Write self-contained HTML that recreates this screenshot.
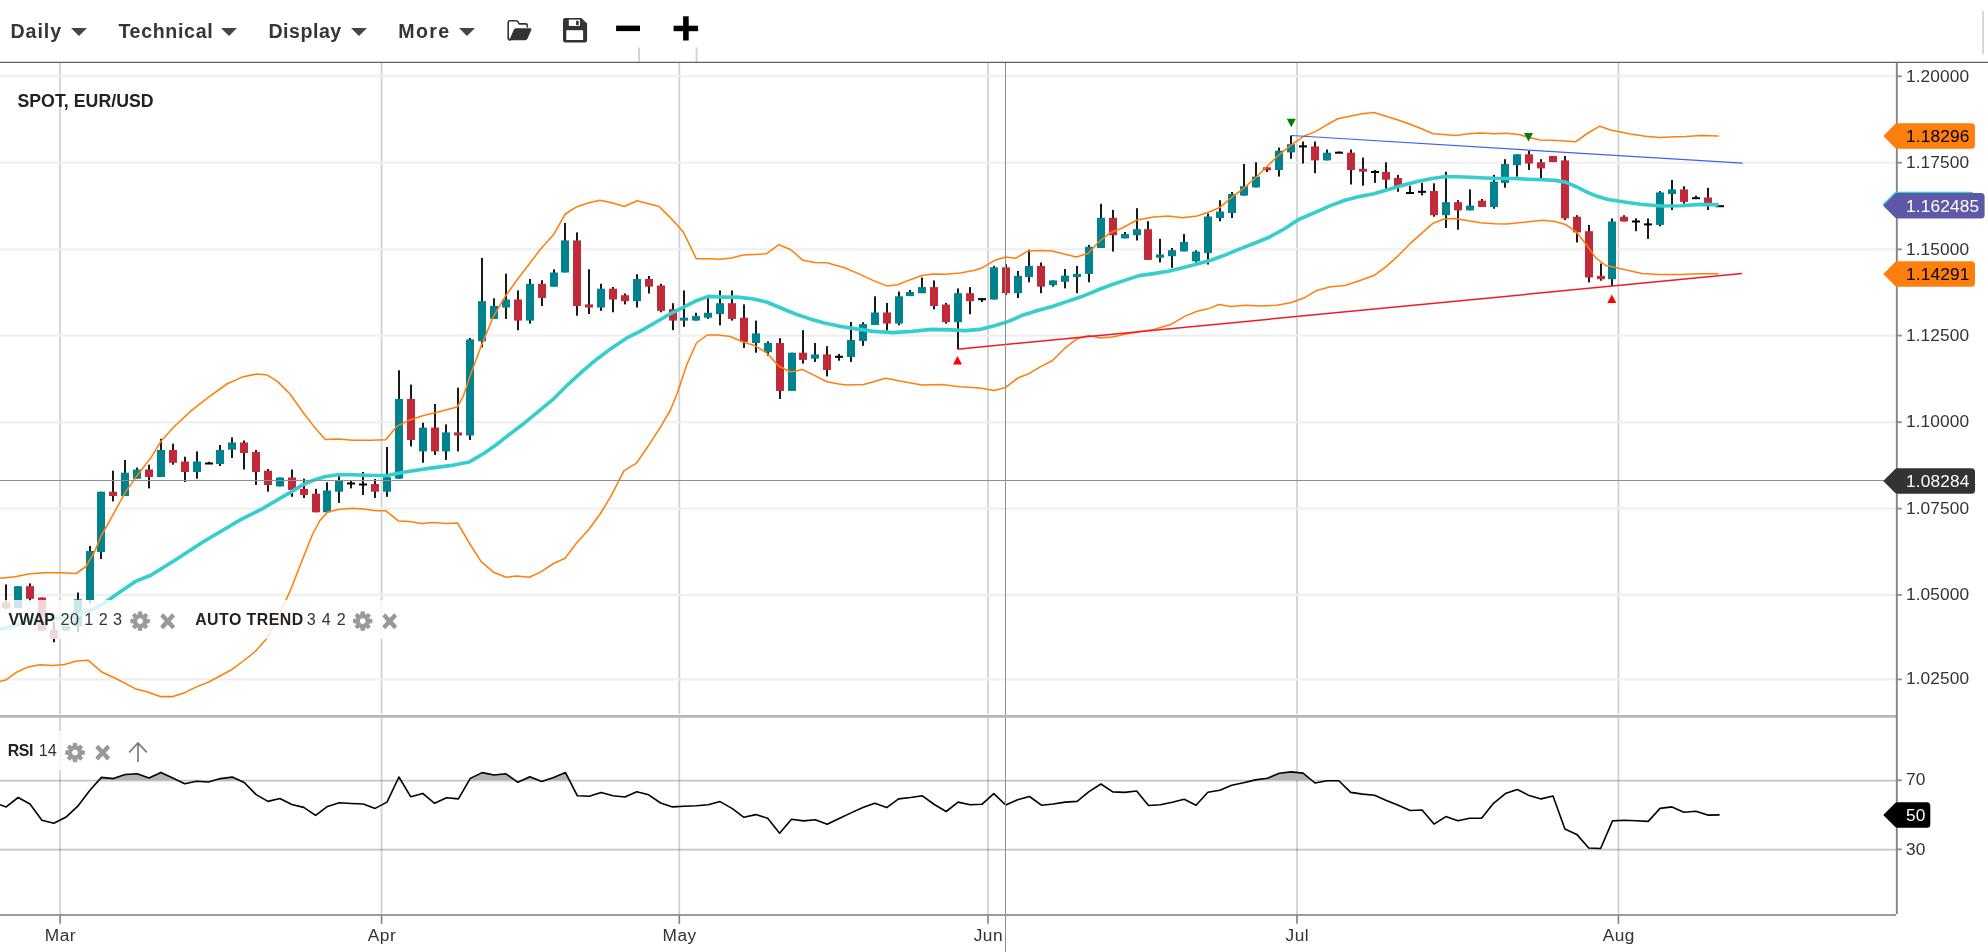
<!DOCTYPE html>
<html lang="en"><head><meta charset="utf-8"><title>SPOT, EUR/USD chart</title>
<style>
html,body{margin:0;padding:0;background:#fff;}
body{width:1988px;height:952px;position:relative;overflow:hidden;font-family:"Liberation Sans","DejaVu Sans",sans-serif;}
.chart{position:absolute;left:0;top:0;display:block;will-change:transform;}
.toolbar{position:absolute;left:0;top:0;width:1988px;height:62px;z-index:2;will-change:transform;}
.menu{position:absolute;top:18.6px;height:24px;line-height:24px;font-size:19.6px;font-weight:bold;color:#353535;letter-spacing:0.32px;white-space:nowrap;}
.caret{position:absolute;top:27.8px;width:0;height:0;border-left:8px solid transparent;border-right:8px solid transparent;border-top:8.8px solid #454545;}
.ico{position:absolute;top:0;left:0;}
</style></head><body>
<div class="toolbar">
<span class="menu" style="left:10.5px;letter-spacing:0.95px">Daily</span><i class="caret" style="left:71px"></i>
<span class="menu" style="left:118.4px;letter-spacing:0.67px">Technical</span><i class="caret" style="left:221.2px"></i>
<span class="menu" style="left:268.4px;letter-spacing:0.52px">Display</span><i class="caret" style="left:351.2px"></i>
<span class="menu" style="left:398.2px;letter-spacing:1.4px">More</span><i class="caret" style="left:459px"></i>
<svg class="ico" width="720" height="62" viewBox="0 0 720 62">
<path d="M508.2,38.3 L508.2,22.2 Q508.2,20.7 509.7,20.7 L516.2,20.7 Q517.4,20.7 518,21.8 L519.2,23.9 L525.8,23.9 Q527.3,23.9 527.3,25.4 L527.3,27.6" fill="none" stroke="#333" stroke-width="1.6" stroke-linejoin="round"/>
<path d="M508.2,37.5 Q508.2,40 510.6,40.1" fill="none" stroke="#333" stroke-width="1.6"/>
<path d="M515.8,28.2 L530.3,28.2 Q532,28.2 531.3,29.9 L527.6,38.6 Q526.9,40.2 525.2,40.2 L510.9,40.2 Q509.3,40.2 510,38.6 L513.8,29.7 Q514.5,28.2 515.8,28.2 Z" fill="#333"/>
<path d="M565.1,18 L581.3,18 L587.1,23.6 L587.1,40.3 Q587.1,42.4 585,42.4 L565.1,42.4 Q563,42.4 563,40.3 L563,20.1 Q563,18 565.1,18 Z" fill="#333"/>
<rect x="568.8" y="19.6" width="11.2" height="6.3" fill="#fff"/>
<rect x="576.1" y="20.8" width="2.6" height="4.3" fill="#333"/>
<rect x="566.3" y="30.2" width="16.8" height="9.8" fill="#fff"/>
<rect x="616.1" y="25.6" width="23.9" height="5.5" fill="#000"/>
<rect x="673.6" y="25.7" width="24.5" height="5.5" fill="#000"/>
<rect x="683.1" y="16.3" width="5.6" height="24.2" fill="#000"/>
</svg>
</div>
<svg class="chart" width="1988" height="952" viewBox="0 0 1988 952">
<g fill="#d4d4d4"><rect x="638" y="47.5" width="2" height="15"/><rect x="695.6" y="47.5" width="2" height="15"/><rect x="1982.1" y="11" width="1.9" height="43" fill="#d6d6d6"/></g>
<g stroke="#000" stroke-opacity="0.175" stroke-width="1.85">
<line x1="60.1" y1="63" x2="60.1" y2="714"/>
<line x1="381.6" y1="63" x2="381.6" y2="714"/>
<line x1="679.3" y1="63" x2="679.3" y2="714"/>
<line x1="988.0" y1="63" x2="988.0" y2="714"/>
<line x1="1297.0" y1="63" x2="1297.0" y2="714"/>
<line x1="1618.4" y1="63" x2="1618.4" y2="714"/>
</g>
<g stroke="#000" stroke-opacity="0.175" stroke-width="1.85">
<line x1="60.1" y1="717" x2="60.1" y2="915"/>
<line x1="381.6" y1="717" x2="381.6" y2="915"/>
<line x1="679.3" y1="717" x2="679.3" y2="915"/>
<line x1="988.0" y1="717" x2="988.0" y2="915"/>
<line x1="1297.0" y1="717" x2="1297.0" y2="915"/>
<line x1="1618.4" y1="717" x2="1618.4" y2="915"/>
</g>
<g stroke="#efefef" stroke-width="2.1">
<line x1="0" y1="76.3" x2="1896.6" y2="76.3"/>
<line x1="0" y1="162.7" x2="1896.6" y2="162.7"/>
<line x1="0" y1="249.3" x2="1896.6" y2="249.3"/>
<line x1="0" y1="335.6" x2="1896.6" y2="335.6"/>
<line x1="0" y1="422.2" x2="1896.6" y2="422.2"/>
<line x1="0" y1="508.6" x2="1896.6" y2="508.6"/>
<line x1="0" y1="594.9" x2="1896.6" y2="594.9"/>
<line x1="0" y1="679.4" x2="1896.6" y2="679.4"/>
</g>
<g stroke="#000" stroke-opacity="0.23" stroke-width="1.55"><line x1="0" y1="780.6" x2="1896.6" y2="780.6"/><line x1="0" y1="849.6" x2="1896.6" y2="849.6"/></g>
<defs><clipPath id="cm"><rect x="0" y="63" width="1896.6" height="653"/></clipPath><clipPath id="c70"><rect x="0" y="718" width="1896.6" height="62.3"/></clipPath></defs>
<g clip-path="url(#cm)">
<g class="candles">
<rect x="5" y="584.5" width="2" height="24.9" fill="#1a1a1a"/>
<rect x="2" y="602.4" width="8" height="5.8" fill="#c12b39"/>
<rect x="17" y="586.2" width="2" height="22.0" fill="#1a1a1a"/>
<rect x="14" y="586.2" width="8" height="22.0" fill="#00838f"/>
<rect x="29" y="583.4" width="2" height="18.0" fill="#1a1a1a"/>
<rect x="26" y="586.2" width="8" height="12.6" fill="#c12b39"/>
<rect x="41" y="597.5" width="2" height="33.1" fill="#1a1a1a"/>
<rect x="38" y="597.5" width="8" height="33.1" fill="#c12b39"/>
<rect x="53" y="622.0" width="2" height="20.2" fill="#1a1a1a"/>
<rect x="50" y="629.6" width="8" height="9.1" fill="#c12b39"/>
<rect x="65" y="626.0" width="2" height="4.6" fill="#1a1a1a"/>
<rect x="62" y="626.0" width="8" height="4.6" fill="#00838f"/>
<rect x="77" y="592.5" width="2" height="39.6" fill="#1a1a1a"/>
<rect x="74" y="599.3" width="8" height="26.7" fill="#00838f"/>
<rect x="89" y="546.0" width="2" height="57.4" fill="#1a1a1a"/>
<rect x="86" y="551.0" width="8" height="49.0" fill="#00838f"/>
<rect x="100" y="491.7" width="2" height="67.3" fill="#1a1a1a"/>
<rect x="97" y="491.7" width="8" height="60.3" fill="#00838f"/>
<rect x="112" y="470.7" width="2" height="30.7" fill="#1a1a1a"/>
<rect x="109" y="491.7" width="8" height="4.3" fill="#c12b39"/>
<rect x="124" y="460.0" width="2" height="36.0" fill="#1a1a1a"/>
<rect x="121" y="472.7" width="8" height="23.3" fill="#00838f"/>
<rect x="136" y="467.6" width="2" height="11.1" fill="#1a1a1a"/>
<rect x="133" y="469.5" width="8" height="9.2" fill="#00838f"/>
<rect x="148" y="464.7" width="2" height="23.7" fill="#1a1a1a"/>
<rect x="145" y="469.5" width="8" height="7.5" fill="#c12b39"/>
<rect x="160" y="438.8" width="2" height="38.2" fill="#1a1a1a"/>
<rect x="157" y="450.0" width="8" height="27.0" fill="#00838f"/>
<rect x="172" y="443.7" width="2" height="21.0" fill="#1a1a1a"/>
<rect x="169" y="450.0" width="8" height="12.8" fill="#c12b39"/>
<rect x="184" y="456.7" width="2" height="25.3" fill="#1a1a1a"/>
<rect x="181" y="461.5" width="8" height="10.5" fill="#c12b39"/>
<rect x="196" y="451.4" width="2" height="27.3" fill="#1a1a1a"/>
<rect x="193" y="461.5" width="8" height="10.5" fill="#00838f"/>
<rect x="208" y="461.8" width="2" height="1.7" fill="#1a1a1a"/>
<rect x="205" y="462.5" width="8" height="2" fill="#000"/>
<rect x="219" y="445.0" width="2" height="21.0" fill="#1a1a1a"/>
<rect x="216" y="450.0" width="8" height="14.0" fill="#00838f"/>
<rect x="231" y="437.4" width="2" height="20.6" fill="#1a1a1a"/>
<rect x="228" y="442.5" width="8" height="7.2" fill="#00838f"/>
<rect x="243" y="440.5" width="2" height="29.0" fill="#1a1a1a"/>
<rect x="240" y="442.5" width="8" height="10.5" fill="#c12b39"/>
<rect x="255" y="450.0" width="2" height="35.0" fill="#1a1a1a"/>
<rect x="252" y="452.0" width="8" height="20.0" fill="#c12b39"/>
<rect x="267" y="469.0" width="2" height="22.7" fill="#1a1a1a"/>
<rect x="264" y="470.7" width="8" height="14.3" fill="#c12b39"/>
<rect x="279" y="477.5" width="2" height="8.9" fill="#1a1a1a"/>
<rect x="276" y="477.5" width="8" height="8.9" fill="#00838f"/>
<rect x="291" y="469.5" width="2" height="27.3" fill="#1a1a1a"/>
<rect x="288" y="477.5" width="8" height="12.5" fill="#c12b39"/>
<rect x="303" y="478.7" width="2" height="19.3" fill="#1a1a1a"/>
<rect x="300" y="488.8" width="8" height="6.2" fill="#c12b39"/>
<rect x="315" y="488.8" width="2" height="23.5" fill="#1a1a1a"/>
<rect x="312" y="493.7" width="8" height="18.6" fill="#c12b39"/>
<rect x="326" y="482.3" width="2" height="30.0" fill="#1a1a1a"/>
<rect x="323" y="490.5" width="8" height="21.8" fill="#00838f"/>
<rect x="338" y="476.0" width="2" height="26.9" fill="#1a1a1a"/>
<rect x="335" y="480.9" width="8" height="10.8" fill="#00838f"/>
<rect x="350" y="481.0" width="2" height="7.4" fill="#1a1a1a"/>
<rect x="347" y="482.5" width="8" height="2" fill="#000"/>
<rect x="362" y="472.0" width="2" height="23.0" fill="#1a1a1a"/>
<rect x="359" y="483.5" width="8" height="2" fill="#000"/>
<rect x="374" y="479.0" width="2" height="19.0" fill="#1a1a1a"/>
<rect x="371" y="484.0" width="8" height="7.7" fill="#c12b39"/>
<rect x="386" y="447.0" width="2" height="49.8" fill="#1a1a1a"/>
<rect x="383" y="477.2" width="8" height="14.5" fill="#00838f"/>
<rect x="398" y="370.3" width="2" height="108.4" fill="#1a1a1a"/>
<rect x="395" y="399.0" width="8" height="79.7" fill="#00838f"/>
<rect x="410" y="384.6" width="2" height="61.9" fill="#1a1a1a"/>
<rect x="407" y="399.0" width="8" height="41.0" fill="#c12b39"/>
<rect x="422" y="422.7" width="2" height="40.1" fill="#1a1a1a"/>
<rect x="419" y="427.6" width="8" height="23.8" fill="#00838f"/>
<rect x="434" y="404.0" width="2" height="51.0" fill="#1a1a1a"/>
<rect x="431" y="427.6" width="8" height="23.8" fill="#c12b39"/>
<rect x="445" y="424.4" width="2" height="35.5" fill="#1a1a1a"/>
<rect x="442" y="432.4" width="8" height="19.0" fill="#00838f"/>
<rect x="457" y="387.7" width="2" height="63.7" fill="#1a1a1a"/>
<rect x="454" y="432.4" width="8" height="3.1" fill="#c12b39"/>
<rect x="469" y="338.0" width="2" height="102.0" fill="#1a1a1a"/>
<rect x="466" y="339.4" width="8" height="96.1" fill="#00838f"/>
<rect x="481" y="258.0" width="2" height="89.4" fill="#1a1a1a"/>
<rect x="478" y="301.2" width="8" height="40.1" fill="#00838f"/>
<rect x="493" y="298.3" width="2" height="20.6" fill="#1a1a1a"/>
<rect x="490" y="306.0" width="8" height="12.9" fill="#00838f"/>
<rect x="505" y="273.7" width="2" height="45.2" fill="#1a1a1a"/>
<rect x="502" y="299.5" width="8" height="8.0" fill="#00838f"/>
<rect x="517" y="290.4" width="2" height="39.8" fill="#1a1a1a"/>
<rect x="514" y="299.5" width="8" height="21.1" fill="#c12b39"/>
<rect x="529" y="279.0" width="2" height="44.7" fill="#1a1a1a"/>
<rect x="526" y="283.8" width="8" height="36.8" fill="#00838f"/>
<rect x="541" y="280.2" width="2" height="25.8" fill="#1a1a1a"/>
<rect x="538" y="283.8" width="8" height="14.1" fill="#c12b39"/>
<rect x="553" y="269.3" width="2" height="17.4" fill="#1a1a1a"/>
<rect x="550" y="272.5" width="8" height="14.2" fill="#00838f"/>
<rect x="564" y="223.0" width="2" height="49.5" fill="#1a1a1a"/>
<rect x="561" y="240.4" width="8" height="32.1" fill="#00838f"/>
<rect x="576" y="232.4" width="2" height="83.3" fill="#1a1a1a"/>
<rect x="573" y="240.4" width="8" height="65.6" fill="#c12b39"/>
<rect x="588" y="269.3" width="2" height="44.7" fill="#1a1a1a"/>
<rect x="585" y="304.4" width="8" height="3.1" fill="#c12b39"/>
<rect x="600" y="283.8" width="2" height="27.1" fill="#1a1a1a"/>
<rect x="597" y="288.7" width="8" height="18.8" fill="#00838f"/>
<rect x="612" y="287.0" width="2" height="25.3" fill="#1a1a1a"/>
<rect x="609" y="288.7" width="8" height="10.8" fill="#c12b39"/>
<rect x="624" y="293.5" width="2" height="10.9" fill="#1a1a1a"/>
<rect x="621" y="295.2" width="8" height="6.0" fill="#c12b39"/>
<rect x="636" y="274.2" width="2" height="33.3" fill="#1a1a1a"/>
<rect x="633" y="279.0" width="8" height="22.2" fill="#00838f"/>
<rect x="648" y="275.9" width="2" height="17.6" fill="#1a1a1a"/>
<rect x="645" y="279.0" width="8" height="7.7" fill="#c12b39"/>
<rect x="660" y="283.8" width="2" height="28.5" fill="#1a1a1a"/>
<rect x="657" y="285.5" width="8" height="25.4" fill="#c12b39"/>
<rect x="672" y="303.2" width="2" height="27.0" fill="#1a1a1a"/>
<rect x="669" y="309.2" width="8" height="11.4" fill="#c12b39"/>
<rect x="683" y="290.4" width="2" height="36.4" fill="#1a1a1a"/>
<rect x="680" y="317.7" width="8" height="2.9" fill="#00838f"/>
<rect x="695" y="312.8" width="2" height="7.8" fill="#1a1a1a"/>
<rect x="692" y="316.0" width="8" height="4.6" fill="#00838f"/>
<rect x="707" y="295.9" width="2" height="23.0" fill="#1a1a1a"/>
<rect x="704" y="312.8" width="8" height="4.9" fill="#00838f"/>
<rect x="719" y="290.4" width="2" height="35.0" fill="#1a1a1a"/>
<rect x="716" y="303.2" width="8" height="10.8" fill="#00838f"/>
<rect x="731" y="290.4" width="2" height="30.2" fill="#1a1a1a"/>
<rect x="728" y="303.2" width="8" height="15.7" fill="#c12b39"/>
<rect x="743" y="304.4" width="2" height="43.5" fill="#1a1a1a"/>
<rect x="740" y="317.7" width="8" height="24.1" fill="#c12b39"/>
<rect x="755" y="320.6" width="2" height="32.1" fill="#1a1a1a"/>
<rect x="752" y="333.4" width="8" height="9.6" fill="#00838f"/>
<rect x="767" y="341.3" width="2" height="14.5" fill="#1a1a1a"/>
<rect x="764" y="343.0" width="8" height="9.2" fill="#00838f"/>
<rect x="779" y="338.2" width="2" height="60.8" fill="#1a1a1a"/>
<rect x="776" y="343.0" width="8" height="47.9" fill="#c12b39"/>
<rect x="791" y="352.7" width="2" height="38.2" fill="#1a1a1a"/>
<rect x="788" y="352.7" width="8" height="38.2" fill="#00838f"/>
<rect x="802" y="330.2" width="2" height="33.4" fill="#1a1a1a"/>
<rect x="799" y="352.7" width="8" height="7.2" fill="#c12b39"/>
<rect x="814" y="343.0" width="2" height="18.9" fill="#1a1a1a"/>
<rect x="811" y="354.4" width="8" height="4.3" fill="#00838f"/>
<rect x="826" y="346.2" width="2" height="30.2" fill="#1a1a1a"/>
<rect x="823" y="354.4" width="8" height="15.6" fill="#c12b39"/>
<rect x="838" y="353.9" width="2" height="6.8" fill="#1a1a1a"/>
<rect x="835" y="355.8" width="8" height="2" fill="#000"/>
<rect x="850" y="322.0" width="2" height="39.9" fill="#1a1a1a"/>
<rect x="847" y="339.9" width="8" height="17.1" fill="#00838f"/>
<rect x="862" y="322.2" width="2" height="23.6" fill="#1a1a1a"/>
<rect x="859" y="324.1" width="8" height="16.9" fill="#00838f"/>
<rect x="874" y="296.3" width="2" height="28.7" fill="#1a1a1a"/>
<rect x="871" y="312.5" width="8" height="12.5" fill="#00838f"/>
<rect x="886" y="302.9" width="2" height="27.7" fill="#1a1a1a"/>
<rect x="883" y="312.5" width="8" height="11.1" fill="#c12b39"/>
<rect x="898" y="291.5" width="2" height="33.8" fill="#1a1a1a"/>
<rect x="895" y="296.3" width="8" height="27.3" fill="#00838f"/>
<rect x="909" y="290.0" width="2" height="6.1" fill="#1a1a1a"/>
<rect x="906" y="292.0" width="8" height="4.1" fill="#00838f"/>
<rect x="921" y="277.5" width="2" height="15.7" fill="#1a1a1a"/>
<rect x="918" y="287.1" width="8" height="6.1" fill="#00838f"/>
<rect x="933" y="280.4" width="2" height="29.0" fill="#1a1a1a"/>
<rect x="930" y="287.1" width="8" height="18.9" fill="#c12b39"/>
<rect x="945" y="302.9" width="2" height="20.7" fill="#1a1a1a"/>
<rect x="942" y="304.5" width="8" height="17.7" fill="#c12b39"/>
<rect x="957" y="288.4" width="2" height="60.8" fill="#1a1a1a"/>
<rect x="954" y="293.2" width="8" height="29.0" fill="#00838f"/>
<rect x="969" y="287.1" width="2" height="27.1" fill="#1a1a1a"/>
<rect x="966" y="293.2" width="8" height="8.0" fill="#c12b39"/>
<rect x="981" y="298.0" width="2" height="4.0" fill="#1a1a1a"/>
<rect x="978" y="298.2" width="8" height="2" fill="#000"/>
<rect x="993" y="265.9" width="2" height="33.6" fill="#1a1a1a"/>
<rect x="990" y="267.3" width="8" height="32.2" fill="#00838f"/>
<rect x="1005" y="264.2" width="2" height="30.7" fill="#1a1a1a"/>
<rect x="1002" y="267.3" width="8" height="25.9" fill="#c12b39"/>
<rect x="1017" y="271.0" width="2" height="27.0" fill="#1a1a1a"/>
<rect x="1014" y="275.8" width="8" height="17.4" fill="#00838f"/>
<rect x="1028" y="249.7" width="2" height="32.6" fill="#1a1a1a"/>
<rect x="1025" y="265.9" width="8" height="11.1" fill="#00838f"/>
<rect x="1040" y="262.5" width="2" height="30.7" fill="#1a1a1a"/>
<rect x="1037" y="265.9" width="8" height="20.8" fill="#c12b39"/>
<rect x="1052" y="280.4" width="2" height="6.3" fill="#1a1a1a"/>
<rect x="1049" y="280.4" width="8" height="4.8" fill="#00838f"/>
<rect x="1064" y="269.0" width="2" height="19.4" fill="#1a1a1a"/>
<rect x="1061" y="275.6" width="8" height="6.2" fill="#00838f"/>
<rect x="1076" y="265.9" width="2" height="27.3" fill="#1a1a1a"/>
<rect x="1073" y="273.9" width="8" height="3.1" fill="#00838f"/>
<rect x="1088" y="244.9" width="2" height="37.4" fill="#1a1a1a"/>
<rect x="1085" y="246.8" width="8" height="27.1" fill="#00838f"/>
<rect x="1100" y="203.8" width="2" height="44.2" fill="#1a1a1a"/>
<rect x="1097" y="217.8" width="8" height="30.2" fill="#00838f"/>
<rect x="1112" y="209.9" width="2" height="41.7" fill="#1a1a1a"/>
<rect x="1109" y="217.8" width="8" height="17.4" fill="#c12b39"/>
<rect x="1124" y="232.0" width="2" height="6.4" fill="#1a1a1a"/>
<rect x="1121" y="234.0" width="8" height="4.4" fill="#00838f"/>
<rect x="1136" y="208.2" width="2" height="32.3" fill="#1a1a1a"/>
<rect x="1133" y="229.2" width="8" height="6.0" fill="#00838f"/>
<rect x="1147" y="221.2" width="2" height="38.7" fill="#1a1a1a"/>
<rect x="1144" y="229.2" width="8" height="30.7" fill="#c12b39"/>
<rect x="1159" y="238.8" width="2" height="23.7" fill="#1a1a1a"/>
<rect x="1156" y="254.5" width="8" height="3.2" fill="#00838f"/>
<rect x="1171" y="248.0" width="2" height="19.8" fill="#1a1a1a"/>
<rect x="1168" y="250.2" width="8" height="6.0" fill="#00838f"/>
<rect x="1183" y="234.0" width="2" height="17.4" fill="#1a1a1a"/>
<rect x="1180" y="242.0" width="8" height="9.4" fill="#00838f"/>
<rect x="1195" y="250.2" width="2" height="12.3" fill="#1a1a1a"/>
<rect x="1192" y="251.6" width="8" height="9.7" fill="#00838f"/>
<rect x="1207" y="213.5" width="2" height="51.0" fill="#1a1a1a"/>
<rect x="1204" y="216.5" width="8" height="36.5" fill="#00838f"/>
<rect x="1219" y="200.2" width="2" height="21.1" fill="#1a1a1a"/>
<rect x="1216" y="211.5" width="8" height="6.5" fill="#00838f"/>
<rect x="1231" y="192.0" width="2" height="26.0" fill="#1a1a1a"/>
<rect x="1228" y="194.0" width="8" height="19.0" fill="#00838f"/>
<rect x="1243" y="164.0" width="2" height="31.6" fill="#1a1a1a"/>
<rect x="1240" y="186.2" width="8" height="9.4" fill="#00838f"/>
<rect x="1255" y="162.3" width="2" height="25.1" fill="#1a1a1a"/>
<rect x="1252" y="176.6" width="8" height="10.8" fill="#00838f"/>
<rect x="1266" y="167.0" width="2" height="5.0" fill="#1a1a1a"/>
<rect x="1263" y="167.3" width="8" height="3.0" fill="#c12b39"/>
<rect x="1278" y="147.6" width="2" height="29.0" fill="#1a1a1a"/>
<rect x="1275" y="150.7" width="8" height="19.3" fill="#00838f"/>
<rect x="1290" y="135.5" width="2" height="23.2" fill="#1a1a1a"/>
<rect x="1287" y="144.2" width="8" height="8.2" fill="#00838f"/>
<rect x="1302" y="141.5" width="2" height="22.0" fill="#1a1a1a"/>
<rect x="1299" y="145.4" width="8" height="2" fill="#000"/>
<rect x="1314" y="141.5" width="2" height="31.7" fill="#1a1a1a"/>
<rect x="1311" y="146.4" width="8" height="14.0" fill="#c12b39"/>
<rect x="1326" y="149.5" width="2" height="10.9" fill="#1a1a1a"/>
<rect x="1323" y="152.7" width="8" height="7.7" fill="#00838f"/>
<rect x="1338" y="151.5" width="2" height="1.2" fill="#1a1a1a"/>
<rect x="1335" y="151.7" width="8" height="2" fill="#000"/>
<rect x="1350" y="149.5" width="2" height="35.0" fill="#1a1a1a"/>
<rect x="1347" y="152.7" width="8" height="17.3" fill="#c12b39"/>
<rect x="1362" y="157.5" width="2" height="28.2" fill="#1a1a1a"/>
<rect x="1359" y="168.8" width="8" height="2.9" fill="#c12b39"/>
<rect x="1374" y="170.0" width="2" height="12.9" fill="#1a1a1a"/>
<rect x="1371" y="171.0" width="8" height="2" fill="#000"/>
<rect x="1385" y="162.3" width="2" height="27.1" fill="#1a1a1a"/>
<rect x="1382" y="172.0" width="8" height="7.7" fill="#c12b39"/>
<rect x="1397" y="174.9" width="2" height="16.9" fill="#1a1a1a"/>
<rect x="1394" y="178.0" width="8" height="8.5" fill="#c12b39"/>
<rect x="1409" y="185.7" width="2" height="7.3" fill="#1a1a1a"/>
<rect x="1406" y="192.0" width="8" height="2" fill="#000"/>
<rect x="1421" y="182.9" width="2" height="12.5" fill="#1a1a1a"/>
<rect x="1418" y="190.8" width="8" height="2" fill="#000"/>
<rect x="1433" y="183.3" width="2" height="33.4" fill="#1a1a1a"/>
<rect x="1430" y="191.0" width="8" height="24.2" fill="#c12b39"/>
<rect x="1445" y="171.7" width="2" height="56.3" fill="#1a1a1a"/>
<rect x="1442" y="202.2" width="8" height="13.0" fill="#00838f"/>
<rect x="1457" y="200.2" width="2" height="29.5" fill="#1a1a1a"/>
<rect x="1454" y="202.2" width="8" height="8.2" fill="#c12b39"/>
<rect x="1469" y="189.4" width="2" height="21.0" fill="#1a1a1a"/>
<rect x="1466" y="205.6" width="8" height="4.8" fill="#00838f"/>
<rect x="1481" y="199.0" width="2" height="8.0" fill="#1a1a1a"/>
<rect x="1478" y="200.7" width="8" height="6.3" fill="#c12b39"/>
<rect x="1493" y="174.9" width="2" height="33.8" fill="#1a1a1a"/>
<rect x="1490" y="181.6" width="8" height="25.4" fill="#00838f"/>
<rect x="1504" y="159.2" width="2" height="28.5" fill="#1a1a1a"/>
<rect x="1501" y="164.0" width="8" height="18.9" fill="#00838f"/>
<rect x="1516" y="154.3" width="2" height="22.3" fill="#1a1a1a"/>
<rect x="1513" y="154.3" width="8" height="10.9" fill="#00838f"/>
<rect x="1528" y="150.7" width="2" height="19.3" fill="#1a1a1a"/>
<rect x="1525" y="154.3" width="8" height="9.2" fill="#c12b39"/>
<rect x="1540" y="159.2" width="2" height="18.8" fill="#1a1a1a"/>
<rect x="1537" y="162.3" width="8" height="6.1" fill="#c12b39"/>
<rect x="1552" y="156.0" width="2" height="6.1" fill="#1a1a1a"/>
<rect x="1549" y="156.0" width="8" height="6.1" fill="#c12b39"/>
<rect x="1564" y="156.0" width="2" height="64.0" fill="#1a1a1a"/>
<rect x="1561" y="160.4" width="8" height="58.0" fill="#c12b39"/>
<rect x="1576" y="215.2" width="2" height="27.3" fill="#1a1a1a"/>
<rect x="1573" y="216.7" width="8" height="15.7" fill="#c12b39"/>
<rect x="1588" y="224.9" width="2" height="57.5" fill="#1a1a1a"/>
<rect x="1585" y="231.2" width="8" height="46.3" fill="#c12b39"/>
<rect x="1600" y="263.5" width="2" height="17.2" fill="#1a1a1a"/>
<rect x="1597" y="275.8" width="8" height="3.4" fill="#c12b39"/>
<rect x="1611" y="218.4" width="2" height="67.6" fill="#1a1a1a"/>
<rect x="1608" y="221.5" width="8" height="57.7" fill="#00838f"/>
<rect x="1623" y="215.2" width="2" height="6.3" fill="#1a1a1a"/>
<rect x="1620" y="216.7" width="8" height="4.8" fill="#c12b39"/>
<rect x="1635" y="218.4" width="2" height="12.8" fill="#1a1a1a"/>
<rect x="1632" y="220.5" width="8" height="2" fill="#000"/>
<rect x="1647" y="218.4" width="2" height="20.5" fill="#1a1a1a"/>
<rect x="1644" y="223.4" width="8" height="2" fill="#000"/>
<rect x="1659" y="191.1" width="2" height="35.2" fill="#1a1a1a"/>
<rect x="1656" y="192.4" width="8" height="32.5" fill="#00838f"/>
<rect x="1671" y="180.0" width="2" height="30.0" fill="#1a1a1a"/>
<rect x="1668" y="189.4" width="8" height="4.7" fill="#00838f"/>
<rect x="1683" y="186.3" width="2" height="17.4" fill="#1a1a1a"/>
<rect x="1680" y="189.4" width="8" height="12.5" fill="#c12b39"/>
<rect x="1695" y="195.6" width="2" height="2.6" fill="#1a1a1a"/>
<rect x="1692" y="197.2" width="8" height="2" fill="#000"/>
<rect x="1707" y="187.8" width="2" height="22.2" fill="#1a1a1a"/>
<rect x="1704" y="197.5" width="8" height="5.7" fill="#c12b39"/>
<rect x="1716" y="205.2" width="8" height="2" fill="#000"/>
</g>
<polyline class="bb" fill="none" stroke="#ff7f0e" stroke-width="1.55" stroke-linejoin="round" points="0.0,578.2 15.1,576.8 30.0,573.8 45.0,572.8 60.5,572.8 76.0,573.5 86.0,566.5 94.6,551.6 100.9,536.5 113.5,513.8 126.1,491.1 138.7,473.5 151.3,457.1 161.4,440.7 174.0,426.8 191.6,410.4 209.3,396.6 226.9,384.0 242.1,377.1 257.2,373.9 267.3,375.1 277.4,381.4 290.0,394.0 302.6,411.7 315.2,428.1 325.3,439.4 337.9,438.9 353.0,440.2 370.7,440.2 385.8,439.7 397.1,426.1 409.0,420.3 423.5,415.5 438.0,411.9 457.3,407.0 463.3,396.2 470.6,374.4 481.4,345.4 493.5,316.4 505.6,295.9 517.7,279.0 529.8,263.3 540.0,249.7 553.9,234.2 565.2,214.0 576.6,206.9 587.9,203.1 599.9,200.2 611.9,202.7 624.2,206.5 637.1,200.8 648.4,203.7 659.1,206.5 666.1,213.4 674.9,222.5 683.1,231.7 690.0,245.6 696.3,258.8 707.7,258.8 720.3,259.2 731.6,257.9 743.0,255.0 754.3,254.4 766.3,253.8 778.9,244.7 790.6,249.5 802.7,260.2 814.8,262.6 826.9,262.8 844.5,267.8 859.0,273.9 873.5,280.6 886.8,285.9 897.6,284.7 909.7,279.9 921.8,275.6 933.9,273.9 945.9,274.3 960.4,273.1 974.9,270.2 982.2,267.8 994.3,260.6 1005.6,257.0 1016.0,258.2 1028.1,250.9 1040.1,250.4 1052.2,250.9 1064.3,254.1 1076.4,257.0 1088.5,253.3 1098.1,242.5 1110.2,232.8 1122.3,228.0 1136.8,220.0 1153.7,217.1 1168.2,215.9 1182.7,217.8 1197.1,215.9 1209.2,212.0 1219.3,207.8 1231.2,197.8 1243.3,188.7 1255.4,178.0 1267.5,166.0 1279.7,154.3 1291.8,144.7 1303.9,136.2 1315.9,131.4 1328.0,124.2 1337.7,118.8 1349.8,116.2 1361.8,113.8 1373.9,112.6 1386.0,116.2 1398.1,120.0 1410.1,124.2 1422.2,129.0 1433.1,133.8 1444.0,134.5 1456.0,135.5 1468.1,133.8 1480.2,133.1 1494.7,133.8 1506.8,133.3 1518.8,134.5 1528.5,137.4 1540.6,139.9 1552.7,140.3 1564.7,141.1 1575.6,141.8 1586.5,134.0 1599.7,126.2 1610.4,130.1 1618.1,131.6 1630.4,134.1 1645.6,136.3 1659.7,137.6 1670.8,137.1 1685.9,136.6 1701.0,135.6 1718.7,135.9"/>
<polyline class="bb" fill="none" stroke="#ff7f0e" stroke-width="1.55" stroke-linejoin="round" points="0.0,681.3 5.8,680.1 16.6,672.2 28.2,666.9 39.8,664.7 53.1,665.5 64.7,664.4 76.4,660.9 88.0,660.2 101.3,671.7 116.2,678.8 136.1,689.1 147.7,692.1 160.2,696.6 172.6,696.6 184.3,692.9 195.9,687.1 209.2,681.8 220.8,675.5 232.4,669.2 244.0,660.5 255.6,651.1 266.4,639.0 273.9,625.7 282.2,608.3 290.5,590.0 302.6,559.2 312.7,534.0 320.2,520.1 327.8,512.0 337.9,509.5 353.0,508.3 365.6,509.3 375.7,510.8 385.8,510.8 398.4,520.9 409.7,521.6 421.1,523.6 433.7,522.6 446.3,523.4 457.6,523.1 470.5,545.0 481.0,561.4 493.6,572.3 506.2,577.2 516.7,576.1 529.4,577.2 540.9,571.9 553.5,563.5 565.1,558.3 576.6,542.9 588.2,530.3 599.8,514.5 611.3,495.6 623.9,470.8 636.5,463.1 648.1,446.2 659.7,428.4 670.2,410.5 677.1,393.7 686.8,364.8 696.4,343.0 707.3,335.0 718.2,335.0 730.2,336.5 742.3,341.8 754.4,345.4 766.5,352.7 778.6,366.0 790.6,372.0 802.7,369.6 814.8,375.6 826.9,381.7 838.9,384.1 846.9,385.0 863.8,384.5 885.6,378.2 902.5,381.4 921.8,385.0 941.1,384.5 960.4,386.7 979.8,388.1 994.3,390.5 1005.6,387.4 1018.4,377.7 1028.1,374.1 1040.1,366.9 1052.2,360.8 1064.3,348.7 1076.4,339.1 1088.5,335.5 1100.5,337.9 1112.6,337.1 1124.7,334.3 1139.2,331.8 1153.7,329.4 1170.6,324.6 1185.1,316.1 1197.1,311.3 1209.2,308.4 1218.9,304.5 1231.0,306.5 1245.5,305.3 1260.0,306.0 1276.9,305.3 1291.4,302.4 1303.9,298.1 1315.9,290.8 1330.4,286.7 1344.9,285.5 1359.4,280.7 1373.9,275.6 1386.0,266.7 1398.1,255.8 1410.1,243.7 1422.2,232.9 1433.1,223.2 1444.0,219.1 1456.0,218.4 1468.1,220.8 1480.2,222.7 1494.7,223.7 1506.8,223.9 1518.8,222.7 1530.9,221.5 1543.0,220.3 1555.1,221.5 1565.5,224.4 1576.8,232.4 1586.5,244.9 1596.1,258.2 1605.8,265.5 1615.5,267.4 1627.5,270.3 1642.0,273.4 1658.9,274.6 1680.0,274.4 1700.0,273.8 1718.7,273.7"/>
<polyline fill="none" stroke="#35cdcd" stroke-width="3.6" stroke-linejoin="round" points="0.0,629.6 10.0,627.0 20.2,623.5 30.3,620.5 40.3,619.5 50.4,618.5 60.5,618.0 70.6,617.0 80.7,614.0 90.8,610.4 100.9,604.9 108.9,599.8 121.0,591.3 135.0,581.7 151.3,575.0 176.5,559.2 201.7,542.8 226.9,527.7 242.1,518.9 262.2,508.8 277.4,499.9 292.5,491.1 302.6,484.8 312.7,480.5 325.3,476.5 337.9,474.7 353.0,474.7 365.6,475.2 378.2,475.5 388.3,475.2 403.4,472.2 428.6,468.4 453.9,465.1 469.0,462.1 484.1,453.3 495.9,445.0 510.4,433.6 524.9,422.7 539.4,410.7 553.9,398.6 568.4,384.1 582.9,370.8 597.4,358.7 611.9,347.9 626.4,338.2 640.9,330.9 655.4,322.5 669.9,314.0 684.3,306.8 696.4,300.7 708.5,296.4 723.0,297.1 737.5,297.1 752.0,298.8 766.5,302.0 781.0,308.0 795.5,314.0 810.0,318.9 824.4,323.0 838.9,326.1 853.4,328.5 873.5,331.4 892.8,332.6 912.1,331.4 931.4,329.4 950.8,329.9 965.3,330.6 979.8,329.4 994.3,325.8 1008.7,321.4 1023.2,314.9 1037.7,310.6 1052.2,306.5 1066.7,301.6 1081.2,296.8 1095.7,290.8 1110.2,285.2 1124.7,280.4 1139.2,275.6 1153.7,273.6 1168.2,271.3 1182.7,267.7 1197.1,264.0 1211.6,260.0 1226.1,254.6 1240.6,248.6 1255.1,243.0 1269.6,237.0 1284.1,229.0 1298.6,219.5 1315.9,212.1 1330.4,205.6 1344.9,200.2 1359.4,196.6 1373.9,193.7 1388.4,189.4 1402.9,185.3 1417.4,181.6 1431.9,178.5 1444.0,176.8 1456.0,176.8 1470.5,177.3 1485.0,178.0 1499.5,178.5 1514.0,178.5 1528.5,179.2 1543.0,179.7 1555.1,180.4 1565.5,182.1 1576.8,187.0 1586.5,191.8 1596.1,195.9 1608.2,199.5 1622.7,201.8 1640.5,204.2 1660.7,206.0 1680.9,205.7 1701.0,204.4 1718.7,204.7"/>
<line x1="1291.3" y1="135.5" x2="1742.6" y2="163.2" stroke="#4362ea" stroke-width="1.25"/>
<line x1="957.5" y1="349.2" x2="1742" y2="273.6" stroke="#f01a2a" stroke-width="1.5"/>
<polygon points="1286.8,118.8 1295.8,118.8 1291.3,127.3" fill="#008000"/>
<polygon points="1524.0,133 1533.0,133 1528.5,141.5" fill="#008000"/>
<polygon points="953.0,364.4 962.0,364.4 957.5,356" fill="#ff0000"/>
<polygon points="1607.3,302.9 1616.3,302.9 1611.8,294.4" fill="#ff0000"/>
</g>
<polygon clip-path="url(#c70)" fill="#b4b4b4" points="0.0,780.3 0.0,804.7 6.2,806.9 18.1,797.5 30.0,804.0 41.9,820.2 53.8,823.3 65.7,817.3 77.6,806.4 89.5,790.7 101.4,777.4 113.3,778.6 125.2,774.5 137.1,773.8 149.0,777.9 160.9,772.4 172.8,777.9 184.7,783.7 196.6,781.3 208.5,782.0 220.4,778.6 232.3,777.0 244.2,782.5 256.1,794.6 268.0,801.4 279.9,798.5 291.8,804.5 303.7,807.4 315.6,815.4 327.5,806.4 339.4,802.8 351.3,803.5 363.2,804.0 375.1,808.4 387.0,802.1 398.9,777.0 410.8,796.8 422.7,793.4 434.6,803.3 446.5,797.7 458.4,798.9 470.3,778.4 482.2,772.6 494.1,775.0 506.0,773.8 517.9,782.3 529.8,776.7 541.7,781.5 553.6,777.4 565.5,772.6 577.4,795.8 589.3,796.3 601.1,792.4 613.0,795.8 624.9,797.0 636.8,791.7 648.7,794.8 660.6,803.0 672.5,806.9 684.4,806.2 696.3,805.7 708.2,804.7 720.1,801.6 732.0,808.4 743.9,817.3 755.8,814.6 767.7,818.3 779.6,833.2 791.5,819.2 803.4,820.9 815.3,819.7 827.2,824.3 839.1,818.5 851.0,812.9 862.9,807.4 874.8,803.3 886.7,807.6 898.6,798.9 910.5,797.5 922.4,795.8 934.3,804.5 946.2,811.5 958.1,802.1 970.0,804.7 981.9,804.3 993.8,793.6 1005.7,805.0 1017.6,799.7 1029.5,796.5 1041.4,805.2 1053.3,804.0 1065.2,802.1 1077.1,801.4 1089.0,791.7 1100.9,784.0 1112.8,791.9 1124.7,792.4 1136.6,791.0 1148.5,805.5 1160.4,804.7 1172.3,802.3 1184.2,799.2 1196.0,805.2 1207.9,792.2 1219.8,790.2 1231.7,785.2 1243.6,782.8 1255.5,779.9 1267.4,778.2 1279.3,773.3 1291.2,771.9 1303.1,773.1 1315.0,783.0 1326.9,780.8 1338.8,780.8 1350.7,792.4 1362.6,794.1 1374.5,795.3 1386.4,800.4 1398.3,805.2 1410.2,810.5 1422.1,810.0 1434.0,824.1 1445.9,816.6 1457.8,820.7 1469.7,818.3 1481.6,818.3 1493.5,803.3 1505.4,793.6 1517.3,789.5 1529.2,795.6 1541.1,798.9 1553.0,796.0 1564.9,828.9 1576.8,834.4 1588.7,848.0 1600.6,848.5 1612.5,820.9 1624.4,820.2 1636.3,820.7 1648.2,821.4 1660.1,808.4 1672.0,806.9 1683.9,812.2 1695.8,811.3 1707.7,815.1 1719.6,814.9 1719.6,780.3"/>
<polyline fill="none" stroke="#000" stroke-width="1.6" stroke-linejoin="round" points="0.0,804.7 6.2,806.9 18.1,797.5 30.0,804.0 41.9,820.2 53.8,823.3 65.7,817.3 77.6,806.4 89.5,790.7 101.4,777.4 113.3,778.6 125.2,774.5 137.1,773.8 149.0,777.9 160.9,772.4 172.8,777.9 184.7,783.7 196.6,781.3 208.5,782.0 220.4,778.6 232.3,777.0 244.2,782.5 256.1,794.6 268.0,801.4 279.9,798.5 291.8,804.5 303.7,807.4 315.6,815.4 327.5,806.4 339.4,802.8 351.3,803.5 363.2,804.0 375.1,808.4 387.0,802.1 398.9,777.0 410.8,796.8 422.7,793.4 434.6,803.3 446.5,797.7 458.4,798.9 470.3,778.4 482.2,772.6 494.1,775.0 506.0,773.8 517.9,782.3 529.8,776.7 541.7,781.5 553.6,777.4 565.5,772.6 577.4,795.8 589.3,796.3 601.1,792.4 613.0,795.8 624.9,797.0 636.8,791.7 648.7,794.8 660.6,803.0 672.5,806.9 684.4,806.2 696.3,805.7 708.2,804.7 720.1,801.6 732.0,808.4 743.9,817.3 755.8,814.6 767.7,818.3 779.6,833.2 791.5,819.2 803.4,820.9 815.3,819.7 827.2,824.3 839.1,818.5 851.0,812.9 862.9,807.4 874.8,803.3 886.7,807.6 898.6,798.9 910.5,797.5 922.4,795.8 934.3,804.5 946.2,811.5 958.1,802.1 970.0,804.7 981.9,804.3 993.8,793.6 1005.7,805.0 1017.6,799.7 1029.5,796.5 1041.4,805.2 1053.3,804.0 1065.2,802.1 1077.1,801.4 1089.0,791.7 1100.9,784.0 1112.8,791.9 1124.7,792.4 1136.6,791.0 1148.5,805.5 1160.4,804.7 1172.3,802.3 1184.2,799.2 1196.0,805.2 1207.9,792.2 1219.8,790.2 1231.7,785.2 1243.6,782.8 1255.5,779.9 1267.4,778.2 1279.3,773.3 1291.2,771.9 1303.1,773.1 1315.0,783.0 1326.9,780.8 1338.8,780.8 1350.7,792.4 1362.6,794.1 1374.5,795.3 1386.4,800.4 1398.3,805.2 1410.2,810.5 1422.1,810.0 1434.0,824.1 1445.9,816.6 1457.8,820.7 1469.7,818.3 1481.6,818.3 1493.5,803.3 1505.4,793.6 1517.3,789.5 1529.2,795.6 1541.1,798.9 1553.0,796.0 1564.9,828.9 1576.8,834.4 1588.7,848.0 1600.6,848.5 1612.5,820.9 1624.4,820.2 1636.3,820.7 1648.2,821.4 1660.1,808.4 1672.0,806.9 1683.9,812.2 1695.8,811.3 1707.7,815.1 1719.6,814.9"/>
<g stroke="#8e8e8e" stroke-width="1"><line x1="0" y1="480.5" x2="1896.6" y2="480.5"/><line x1="1005.5" y1="63" x2="1005.5" y2="952"/></g>
<rect x="0" y="600" width="401" height="39" fill="#fff" fill-opacity="0.8"/>
<rect x="0" y="731" width="61" height="39" fill="#fff" fill-opacity="0.8"/>
<g font-family="'Liberation Sans', 'DejaVu Sans', sans-serif" fill="#222">
<text x="17.4" y="106.9" font-size="17.7" font-weight="bold" letter-spacing="0.05">SPOT, EUR/USD</text>
<text x="8.4" y="624.6" font-size="15.9" font-weight="bold" letter-spacing="-0.1">VWAP <tspan font-weight="normal" fill="#333" font-size="16.2" dx="1.6" letter-spacing="0.45">20 1 2 3</tspan></text>
<text x="195.2" y="624.6" font-size="15.9" font-weight="bold" letter-spacing="0.45">AUTO TREND <tspan font-weight="normal" fill="#333" font-size="16.2" dx="-1.6" letter-spacing="0.7">3 4 2</tspan></text>
<text x="7.8" y="755.7" font-size="15.9" font-weight="bold" letter-spacing="-0.4">RSI <tspan font-weight="normal" fill="#333" font-size="16.2" dx="1.6" letter-spacing="0.1">14</tspan></text>
</g>
<path d="M138.39,614.41 L138.33,611.92 L141.87,611.92 L141.81,614.41 L143.62,615.17 L145.34,613.36 L147.84,615.86 L146.03,617.58 L146.79,619.39 L149.28,619.33 L149.28,622.87 L146.79,622.81 L146.03,624.62 L147.84,626.34 L145.34,628.84 L143.62,627.03 L141.81,627.79 L141.87,630.28 L138.33,630.28 L138.39,627.79 L136.58,627.03 L134.86,628.84 L132.36,626.34 L134.17,624.62 L133.41,622.81 L130.92,622.87 L130.92,619.33 L133.41,619.39 L134.17,617.58 L132.36,615.86 L134.86,613.36 L136.58,615.17Z M136.70,621.10 a3.4,3.4 0 1,0 6.8,0 a3.4,3.4 0 1,0 -6.8,0Z" fill="#999" fill-rule="evenodd" stroke="#999" stroke-width="1" stroke-linejoin="round"/>
<g transform="translate(167.7,621.3) scale(1,1.07) rotate(45)" fill="#999"><rect x="-8.5" y="-2.15" width="17.0" height="4.3" rx="0.8"/><rect x="-2.15" y="-8.5" width="4.3" height="17.0" rx="0.8"/></g>
<path d="M360.99,614.41 L360.93,611.92 L364.47,611.92 L364.41,614.41 L366.22,615.17 L367.94,613.36 L370.44,615.86 L368.63,617.58 L369.39,619.39 L371.88,619.33 L371.88,622.87 L369.39,622.81 L368.63,624.62 L370.44,626.34 L367.94,628.84 L366.22,627.03 L364.41,627.79 L364.47,630.28 L360.93,630.28 L360.99,627.79 L359.18,627.03 L357.46,628.84 L354.96,626.34 L356.77,624.62 L356.01,622.81 L353.52,622.87 L353.52,619.33 L356.01,619.39 L356.77,617.58 L354.96,615.86 L357.46,613.36 L359.18,615.17Z M359.30,621.10 a3.4,3.4 0 1,0 6.8,0 a3.4,3.4 0 1,0 -6.8,0Z" fill="#999" fill-rule="evenodd" stroke="#999" stroke-width="1" stroke-linejoin="round"/>
<g transform="translate(389.7,621.3) scale(1,1.07) rotate(45)" fill="#999"><rect x="-8.5" y="-2.15" width="17.0" height="4.3" rx="0.8"/><rect x="-2.15" y="-8.5" width="4.3" height="17.0" rx="0.8"/></g>
<path d="M73.29,745.91 L73.23,743.42 L76.77,743.42 L76.71,745.91 L78.52,746.67 L80.24,744.86 L82.74,747.36 L80.93,749.08 L81.69,750.89 L84.18,750.83 L84.18,754.37 L81.69,754.31 L80.93,756.12 L82.74,757.84 L80.24,760.34 L78.52,758.53 L76.71,759.29 L76.77,761.78 L73.23,761.78 L73.29,759.29 L71.48,758.53 L69.76,760.34 L67.26,757.84 L69.07,756.12 L68.31,754.31 L65.82,754.37 L65.82,750.83 L68.31,750.89 L69.07,749.08 L67.26,747.36 L69.76,744.86 L71.48,746.67Z M71.60,752.60 a3.4,3.4 0 1,0 6.8,0 a3.4,3.4 0 1,0 -6.8,0Z" fill="#999" fill-rule="evenodd" stroke="#999" stroke-width="1" stroke-linejoin="round"/>
<g transform="translate(102.7,752.6) scale(1,1.07) rotate(45)" fill="#999"><rect x="-8.5" y="-2.15" width="17.0" height="4.3" rx="0.8"/><rect x="-2.15" y="-8.5" width="4.3" height="17.0" rx="0.8"/></g>
<path d="M138,762 V743.2 M129.2,752.4 L138,743 L146.8,752.4" fill="none" stroke="#7a7a7a" stroke-width="1.7"/>
<line x1="0" y1="716.4" x2="1896.6" y2="716.4" stroke="#b6b6b6" stroke-width="2.6"/>
<line x1="0" y1="62.4" x2="1988" y2="62.4" stroke="#606060" stroke-width="1.1"/>
<line x1="1896.8" y1="63" x2="1896.8" y2="914" stroke="#838383" stroke-width="1.9"/>
<line x1="0" y1="915" x2="1896" y2="915" stroke="#9a9a9a" stroke-width="2"/>
<g font-family="'Liberation Sans', sans-serif" font-size="17.3" fill="#333" text-anchor="middle" letter-spacing="0.5">
<line x1="60.1" y1="915" x2="60.1" y2="923.8" stroke="#858585" stroke-width="1.7"/>
<text x="60.5" y="941.2">Mar</text>
<line x1="381.6" y1="915" x2="381.6" y2="923.8" stroke="#858585" stroke-width="1.7"/>
<text x="382.0" y="941.2">Apr</text>
<line x1="679.3" y1="915" x2="679.3" y2="923.8" stroke="#858585" stroke-width="1.7"/>
<text x="679.6999999999999" y="941.2">May</text>
<line x1="988.0" y1="915" x2="988.0" y2="923.8" stroke="#858585" stroke-width="1.7"/>
<text x="988.4" y="941.2">Jun</text>
<line x1="1297.0" y1="915" x2="1297.0" y2="923.8" stroke="#858585" stroke-width="1.7"/>
<text x="1297.4" y="941.2">Jul</text>
<line x1="1618.4" y1="915" x2="1618.4" y2="923.8" stroke="#858585" stroke-width="1.7"/>
<text x="1618.8000000000002" y="941.2">Aug</text>
</g>
<g font-family="'Liberation Sans', sans-serif" font-size="17.3" fill="#333" letter-spacing="0.1">
<line x1="1896.6" y1="76.3" x2="1901.8" y2="76.3" stroke="#8a8a8a" stroke-width="1.8"/>
<text x="1906" y="81.5">1.20000</text>
<line x1="1896.6" y1="162.7" x2="1901.8" y2="162.7" stroke="#8a8a8a" stroke-width="1.8"/>
<text x="1906" y="167.9">1.17500</text>
<line x1="1896.6" y1="249.3" x2="1901.8" y2="249.3" stroke="#8a8a8a" stroke-width="1.8"/>
<text x="1906" y="254.5">1.15000</text>
<line x1="1896.6" y1="335.6" x2="1901.8" y2="335.6" stroke="#8a8a8a" stroke-width="1.8"/>
<text x="1906" y="340.8">1.12500</text>
<line x1="1896.6" y1="422.2" x2="1901.8" y2="422.2" stroke="#8a8a8a" stroke-width="1.8"/>
<text x="1906" y="427.4">1.10000</text>
<line x1="1896.6" y1="508.6" x2="1901.8" y2="508.6" stroke="#8a8a8a" stroke-width="1.8"/>
<text x="1906" y="513.8">1.07500</text>
<line x1="1896.6" y1="594.9" x2="1901.8" y2="594.9" stroke="#8a8a8a" stroke-width="1.8"/>
<text x="1906" y="600.1">1.05000</text>
<line x1="1896.6" y1="679.4" x2="1901.8" y2="679.4" stroke="#8a8a8a" stroke-width="1.8"/>
<text x="1906" y="684.1">1.02500</text>
<line x1="1896.6" y1="780.3" x2="1901.8" y2="780.3" stroke="#8a8a8a" stroke-width="1.8"/>
<text x="1906" y="785.4">70</text>
<line x1="1896.6" y1="849.4" x2="1901.8" y2="849.4" stroke="#8a8a8a" stroke-width="1.8"/>
<text x="1906" y="854.5">30</text>
</g>
<path d="M1883.2,136.0 L1895.0,124.2 Q1895.9,123.2 1897.4,123.2 H1971.5 Q1975,123.2 1975,126.7 V145.3 Q1975,148.8 1971.5,148.8 H1897.4 Q1895.9,148.8 1895.0,147.8 Z" fill="#ff7f0e"/><text x="1906" y="142.1" font-family="'Liberation Sans', sans-serif" font-size="17.3" letter-spacing="0.15" fill="#000">1.18296</text>
<path d="M1883.2,274.0 L1895.0,262.2 Q1895.9,261.2 1897.4,261.2 H1971.5 Q1975,261.2 1975,264.7 V283.3 Q1975,286.8 1971.5,286.8 H1897.4 Q1895.9,286.8 1895.0,285.8 Z" fill="#ff7f0e"/><text x="1906" y="280.1" font-family="'Liberation Sans', sans-serif" font-size="17.3" letter-spacing="0.15" fill="#000">1.14291</text>
<path d="M1883.2,205.8 L1895.0,194.0 Q1895.9,193.0 1897.4,193.0 H1971.5 Q1975,193.0 1975,196.5 V215.1 Q1975,218.6 1971.5,218.6 H1897.4 Q1895.9,218.6 1895.0,217.6 Z" fill="#35cdcd" transform="translate(-0.7,-1.3)"/><path d="M1883.2,205.8 L1895.0,194.0 Q1895.9,193.0 1897.4,193.0 H1981.1 Q1984.6,193.0 1984.6,196.5 V215.1 Q1984.6,218.6 1981.1,218.6 H1897.4 Q1895.9,218.6 1895.0,217.6 Z" fill="#5f58a8"/><text x="1906" y="211.9" font-family="'Liberation Sans', sans-serif" font-size="17.3" letter-spacing="0.15" fill="#fff">1.162485</text>
<path d="M1883.2,481.0 L1895.0,469.2 Q1895.9,468.2 1897.4,468.2 H1971.5 Q1975,468.2 1975,471.7 V490.3 Q1975,493.8 1971.5,493.8 H1897.4 Q1895.9,493.8 1895.0,492.8 Z" fill="#333333"/><text x="1906" y="487.1" font-family="'Liberation Sans', sans-serif" font-size="17.3" letter-spacing="0.15" fill="#fff">1.08284</text>
<path d="M1883.2,815.0 L1895.0,803.2 Q1895.9,802.2 1897.4,802.2 H1926.8 Q1930.3,802.2 1930.3,805.7 V824.3 Q1930.3,827.8 1926.8,827.8 H1897.4 Q1895.9,827.8 1895.0,826.8 Z" fill="#000000"/><text x="1906" y="821.1" font-family="'Liberation Sans', sans-serif" font-size="17.3" letter-spacing="0.15" fill="#fff">50</text>
</svg>
</body></html>
